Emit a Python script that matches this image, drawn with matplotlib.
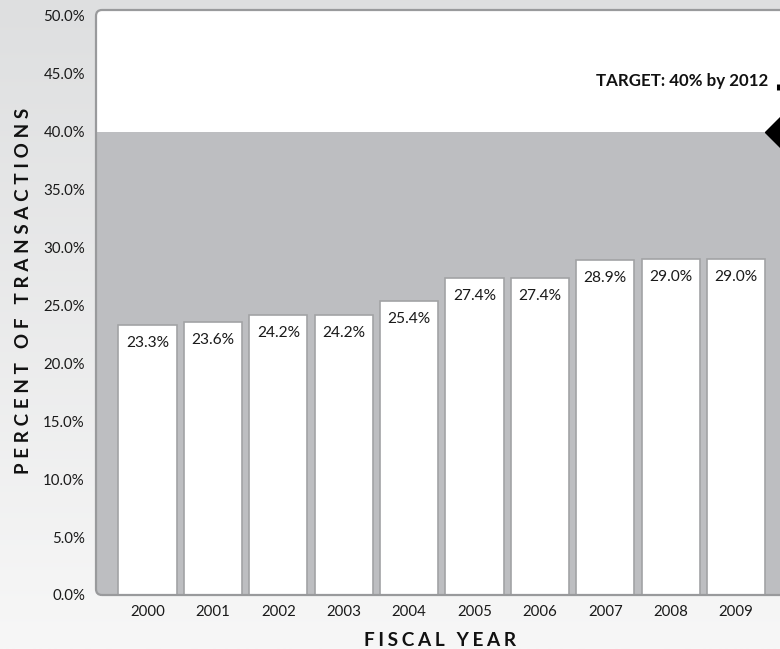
import matplotlib
matplotlib.use('Agg')
import matplotlib.pyplot as plt
import numpy as np
from matplotlib.patches import FancyBboxPatch
from matplotlib.transforms import IdentityTransform

# ---------------- data ----------------
years = ['2000', '2001', '2002', '2003', '2004', '2005', '2006', '2007', '2008', '2009']
values = [23.3, 23.6, 24.2, 24.2, 25.4, 27.4, 27.4, 28.9, 29.0, 29.0]
value_labels = ['23.3%', '23.6%', '24.2%', '24.2%', '25.4%', '27.4%', '27.4%', '28.9%', '29.0%', '29.0%']
target = 40.0
target_label = 'TARGET: 40% by 2012'
y_ticks = [0, 5, 10, 15, 20, 25, 30, 35, 40, 45, 50]
y_tick_labels = ['0.0%', '5.0%', '10.0%', '15.0%', '20.0%', '25.0%', '30.0%', '35.0%', '40.0%', '45.0%', '50.0%']
x_title = 'FISCAL YEAR'
y_title = 'PERCENT OF TRANSACTIONS'

plt.rcParams['font.family'] = ['Lato', 'DejaVu Sans']

W, H = 780, 649
fig = plt.figure(figsize=(W / 100, H / 100), dpi=100)

# background gradient
bg = fig.add_axes([0, 0, 1, 1], zorder=-10)
top_c = np.array([0xde, 0xdf, 0xe0]) / 255
bot_c = np.array([0xf7, 0xf7, 0xf7]) / 255
t = np.linspace(0, 1, 256)[:, None]
grad = (top_c[None, :] * (1 - t) + bot_c[None, :] * t)[:, None, :]
bg.imshow(grad, aspect='auto', extent=[0, 1, 0, 1], origin='upper')
bg.set_axis_off()

# plot axes (extends past right edge of figure like the reference)
ax_l, ax_t, ax_b, ax_r = 96, 10, 595, 834
ax = fig.add_axes([ax_l / W, (H - ax_b) / H, (ax_r - ax_l) / W, (ax_b - ax_t) / H])
ax.patch.set_visible(False)
for s in ax.spines.values():
    s.set_visible(False)

px_per_unit_y = (ax_b - 131.5) / target
ax.set_ylim(0, (ax_b - ax_t) / px_per_unit_y)
ax.set_xlim(-0.787, -0.787 + (ax_r - ax_l) / 65.4)

frame_kw = dict(boxstyle='round,pad=0,rounding_size=6', transform=IdentityTransform(), clip_on=False)
back = FancyBboxPatch((ax_l, H - ax_b), 900, ax_b - ax_t, facecolor='white', edgecolor='none', zorder=0, **frame_kw)
ax.add_patch(back)
span = ax.axhspan(0, target, color='#bdbec1', zorder=1, lw=0)
span.set_clip_path(back)
edge = FancyBboxPatch((ax_l, H - ax_b), 900, ax_b - ax_t, facecolor='none', edgecolor='#999a9c', lw=1.6, zorder=5, **frame_kw)
ax.add_patch(edge)

x = np.arange(len(years))
bars = ax.bar(x, values, width=0.89, color='white', edgecolor='#a2a3a5', linewidth=1.2, zorder=2)
for xi, v, lab in zip(x, values, value_labels):
    ax.annotate(lab, (xi, v), xytext=(0, -13), textcoords='offset points',
                ha='center', va='center', fontsize=11.2, color='#1a1a1a', zorder=3)

ax.set_yticks(y_ticks, y_tick_labels)
ax.set_xticks(x, years)
ax.tick_params(axis='both', length=0, labelsize=10.8, colors='#1a1a1a')
ax.tick_params(axis='y', pad=8)
ax.tick_params(axis='x', pad=7)

# target annotation
ax.text(9.49, 44.35, target_label, ha='right', va='center', fontsize=12.2, fontweight='bold', color='#111111')
ax.plot([9.67], [target], marker='D', ms=15, color='black', clip_on=False, zorder=6, ls='none')
ax.plot([9.64, 9.64], [43.6, 44.1], color='black', lw=2.2, clip_on=False, zorder=6, solid_capstyle='butt')

def spaced(s, sep='\u2009'):
    return sep.join(list(s))

fig.text(440 / W, 1 - 641 / H, spaced(x_title, '\u2009\u200a'), ha='center', va='center', fontsize=13.7,
         fontweight='bold', color='#111111')
fig.text(24 / W, 1 - 291 / H, spaced(y_title, '\u2009\u2009'), ha='center', va='center', rotation=90, fontsize=13.5,
         fontweight='bold', color='#111111')

fig.savefig('out.png', dpi=100)
